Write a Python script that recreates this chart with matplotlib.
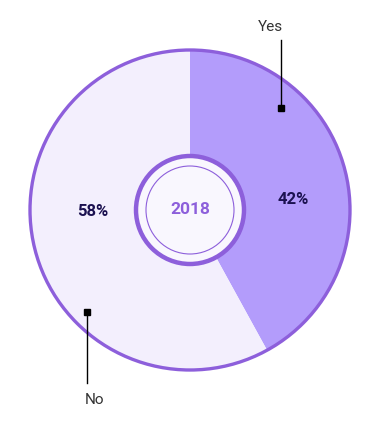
import matplotlib.pyplot as plt
from matplotlib.patches import Circle

plt.rcParams['font.family'] = ['Roboto', 'DejaVu Sans']

# data
labels = ['Yes', 'No']
values = [42, 58]
year = '2018'
colors = ['#b39cfb', '#f3effd']

W, H = 375, 424
fig = plt.figure(figsize=(W / 100, H / 100), dpi=100)
ax = fig.add_axes([0, 0, 1, 1])

cx, cy, r = 190, H - 210, 160
ax.pie(values, colors=colors, startangle=90, counterclock=False,
       center=(cx, cy), radius=r, frame=True,
       wedgeprops={'linewidth': 0})
ax.add_patch(Circle((cx, cy), r, fill=False, edgecolor='#8d5fdb', linewidth=2.4, zorder=3))

# center hole
ax.add_patch(Circle((cx, cy), 54, facecolor='#f9f7fe', edgecolor='#8d5fdb', linewidth=3.2, zorder=4))
ax.add_patch(Circle((cx, cy), 44, fill=False, edgecolor='#8d5fdb', linewidth=0.8, zorder=5))
ax.text(cx, cy, year, ha='center', va='center', fontsize=12.5, fontweight='bold',
        color='#8d5fdb', zorder=6)

# percent labels
ax.text(293, H - 200, f'{values[0]}%', ha='center', va='center', fontsize=12,
        fontweight='bold', color='#1b1150', zorder=6)
ax.text(93, H - 212, f'{values[1]}%', ha='center', va='center', fontsize=12,
        fontweight='bold', color='#1b1150', zorder=6)

# callouts
ax.plot([281, 281], [H - 40, H - 108], color='black', linewidth=1, zorder=6)
ax.plot([281], [H - 108], marker='s', markersize=5, color='black', zorder=7)
ax.text(270, H - 27, labels[0], ha='center', va='center', fontsize=11, color='#333333')

ax.plot([87, 87], [H - 312, H - 383], color='black', linewidth=1, zorder=6)
ax.plot([87], [H - 312], marker='s', markersize=5, color='black', zorder=7)
ax.text(94, H - 400, labels[1], ha='center', va='center', fontsize=11, color='#333333')

ax.set_xlim(0, W)
ax.set_ylim(0, H)
ax.set_aspect('auto')
ax.axis('off')

fig.savefig('out.png', dpi=100, facecolor='white')
